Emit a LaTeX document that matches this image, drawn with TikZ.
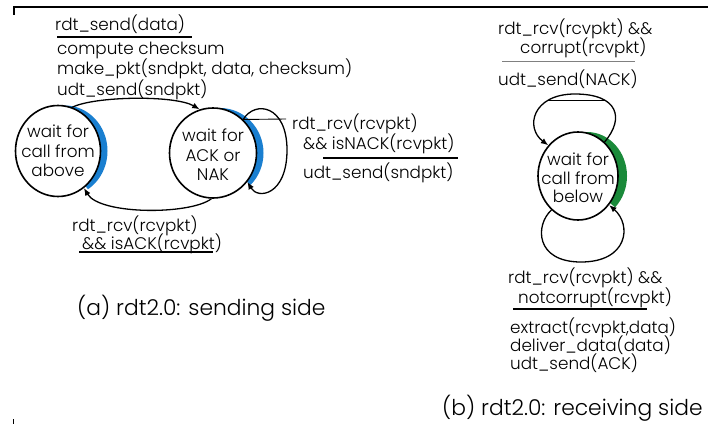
\documentclass[tikz,border=0pt]{standalone}
\usepackage{fontspec}
\setmainfont{Poppins}[UprightFont=* Light]
\usetikzlibrary{shapes.geometric,arrows.meta}
\definecolor{crblue}{RGB}{26,127,208}
\definecolor{crgreen}{RGB}{26,138,58}
\begin{document}
\begin{tikzpicture}[x=1pt,y=-1pt,
  lbl/.style={anchor=west,inner sep=0pt,font=\fontsize{16.8}{16.8}\selectfont,text height=12.6pt,text depth=4.2pt,yshift=-2pt},
  captext/.style={anchor=west,inner sep=0pt,font=\fontsize{21.8}{21.8}\selectfont},
  state/.style={ellipse,draw,line width=1.6pt,fill=white,inner sep=0pt},
  stext/.style={font=\fontsize{16.8}{19.5}\selectfont,align=center,inner sep=0pt},
  arr/.style={line width=1.3pt,-{Latex[length=7.5pt,width=6pt]}},
  sepline/.style={line width=1.4pt},
  framel/.style={line width=1.3pt}]
\useasboundingbox (0,0) rectangle (708,425);
% frame marks
\coordinate (f1) at (14,15); \coordinate (f2) at (14,7); \coordinate (f3) at (708,7);
\draw[framel] (f1) -- (f2) -- (f3);
\coordinate (f4) at (13,419); \coordinate (f5) at (13,424);
\draw[line width=0.8pt] (f4) -- (f5);
% crescents
\begin{scope}
\clip (58,151) -- (138,253) -- (300,253) -- (300,0) -- (0,0) -- cycle;
\fill[crblue] (65,151) ellipse [x radius=42.5, y radius=45.5];
\end{scope}
\begin{scope}
\clip (213,153) -- (290,218) -- (320,218) -- (320,0) -- (150,0) -- cycle;
\fill[crblue] (220,153) ellipse [x radius=43.5, y radius=45];
\end{scope}
\begin{scope}
\clip (578,176) -- (655,241) -- (690,241) -- (690,60) -- (520,60) -- cycle;
\fill[crgreen] (587,176) ellipse [x radius=40, y radius=44];
\end{scope}
% states
\node[state,minimum width=85pt,minimum height=91pt,
  label={[stext]center:wait for\\call from\\above}] (L) at (58,151) {};
\node[state,minimum width=87pt,minimum height=90pt,
  label={[stext,yshift=-2pt]center:wait for\\ACK or\\NAK}] (R) at (213,153) {};
\node[state,minimum width=80pt,minimum height=88pt,
  label={[stext,yshift=-2pt,font=\fontsize{16.8}{18.5}\selectfont]center:wait for\\call from\\below}] (B) at (578,176) {};
% sender transitions
\draw[arr] (L.72) .. controls (95,96) and (175,95) .. (R.107);
\draw[arr] (R.-92) .. controls (190,215) and (100,215) .. (L.-55);
\draw[arr] (R.48) .. controls (255,100) and (287,105) .. (287,150)
  .. controls (287,195) and (258,200) .. (R.-40);
\coordinate (rl) at (286,119);
\draw[line width=0.9pt] (R.48) -- (rl);
% receiver transitions
\draw[arr] (B.52) .. controls (625,118) and (618,94) .. (575,94)
  .. controls (532,94) and (525,128) .. (B.134);
\coordinate (tl1) at (548,100); \coordinate (tl2) at (606,100);
\draw[line width=0.9pt] (tl1) -- (tl2);
\draw[arr] (B.232) .. controls (535,225) and (535,262) .. (581,262)
  .. controls (628,262) and (632,225) .. (B.-43);
% sender labels
\node[lbl] (a1) at (55,24) {rdt\_send(data)};
\coordinate (s1a) at (57,37); \coordinate (s1b) at (192,37);
\draw[sepline] (s1a) -- (s1b);
\node[lbl] (a2) at (57,48) {compute checksum};
\node[lbl] (a3) at (57,68) {make\_pkt(sndpkt, data, checksum)};
\node[lbl] (a4) at (57,89) {udt\_send(sndpkt)};
\node[lbl] (b1) at (292,123) {rdt\_rcv(rcvpkt)};
\node[lbl] (b2) at (303,143) {\&\& isNACK(rcvpkt)};
\coordinate (s2a) at (323,158); \coordinate (s2b) at (458,158);
\draw[sepline] (s2a) -- (s2b);
\node[lbl] (b3) at (303,172) {udt\_send(sndpkt)};
\node[lbl] (c1) at (72,225) {rdt\_rcv(rcvpkt)};
\node[lbl] (c2) at (82,243) {\&\& isACK(rcvpkt)};
\coordinate (s3a) at (79,252); \coordinate (s3b) at (213,252);
\draw[sepline] (s3a) -- (s3b);
\node[captext] (capa) at (77,308) {(a) rdt2.0: sending side};
% receiver labels
\node[lbl] (d1) at (498,28) {rdt\_rcv(rcvpkt) \&\&};
\node[lbl] (d2) at (520,47) {corrupt(rcvpkt)};
\coordinate (s4a) at (502,61); \coordinate (s4b) at (635,61);
\draw[line width=0.6pt,gray] (s4a) -- (s4b);
\node[lbl] (d3) at (498,79) {udt\_send(NACK)};
\node[lbl] (e1) at (508,277) {rdt\_rcv(rcvpkt) \&\&};
\node[lbl] (e2) at (518,297) {notcorrupt(rcvpkt)};
\coordinate (s5a) at (513,309); \coordinate (s5b) at (647,309);
\draw[sepline] (s5a) -- (s5b);
\node[lbl] (e3) at (510,327) {extract(rcvpkt,data)};
\node[lbl] (e4) at (510,345) {deliver\_data(data)};
\node[lbl] (e5) at (510,363) {udt\_send(ACK)};
\node[captext] (capb) at (442,408) {(b) rdt2.0: receiving side};
\end{tikzpicture}
\end{document}
